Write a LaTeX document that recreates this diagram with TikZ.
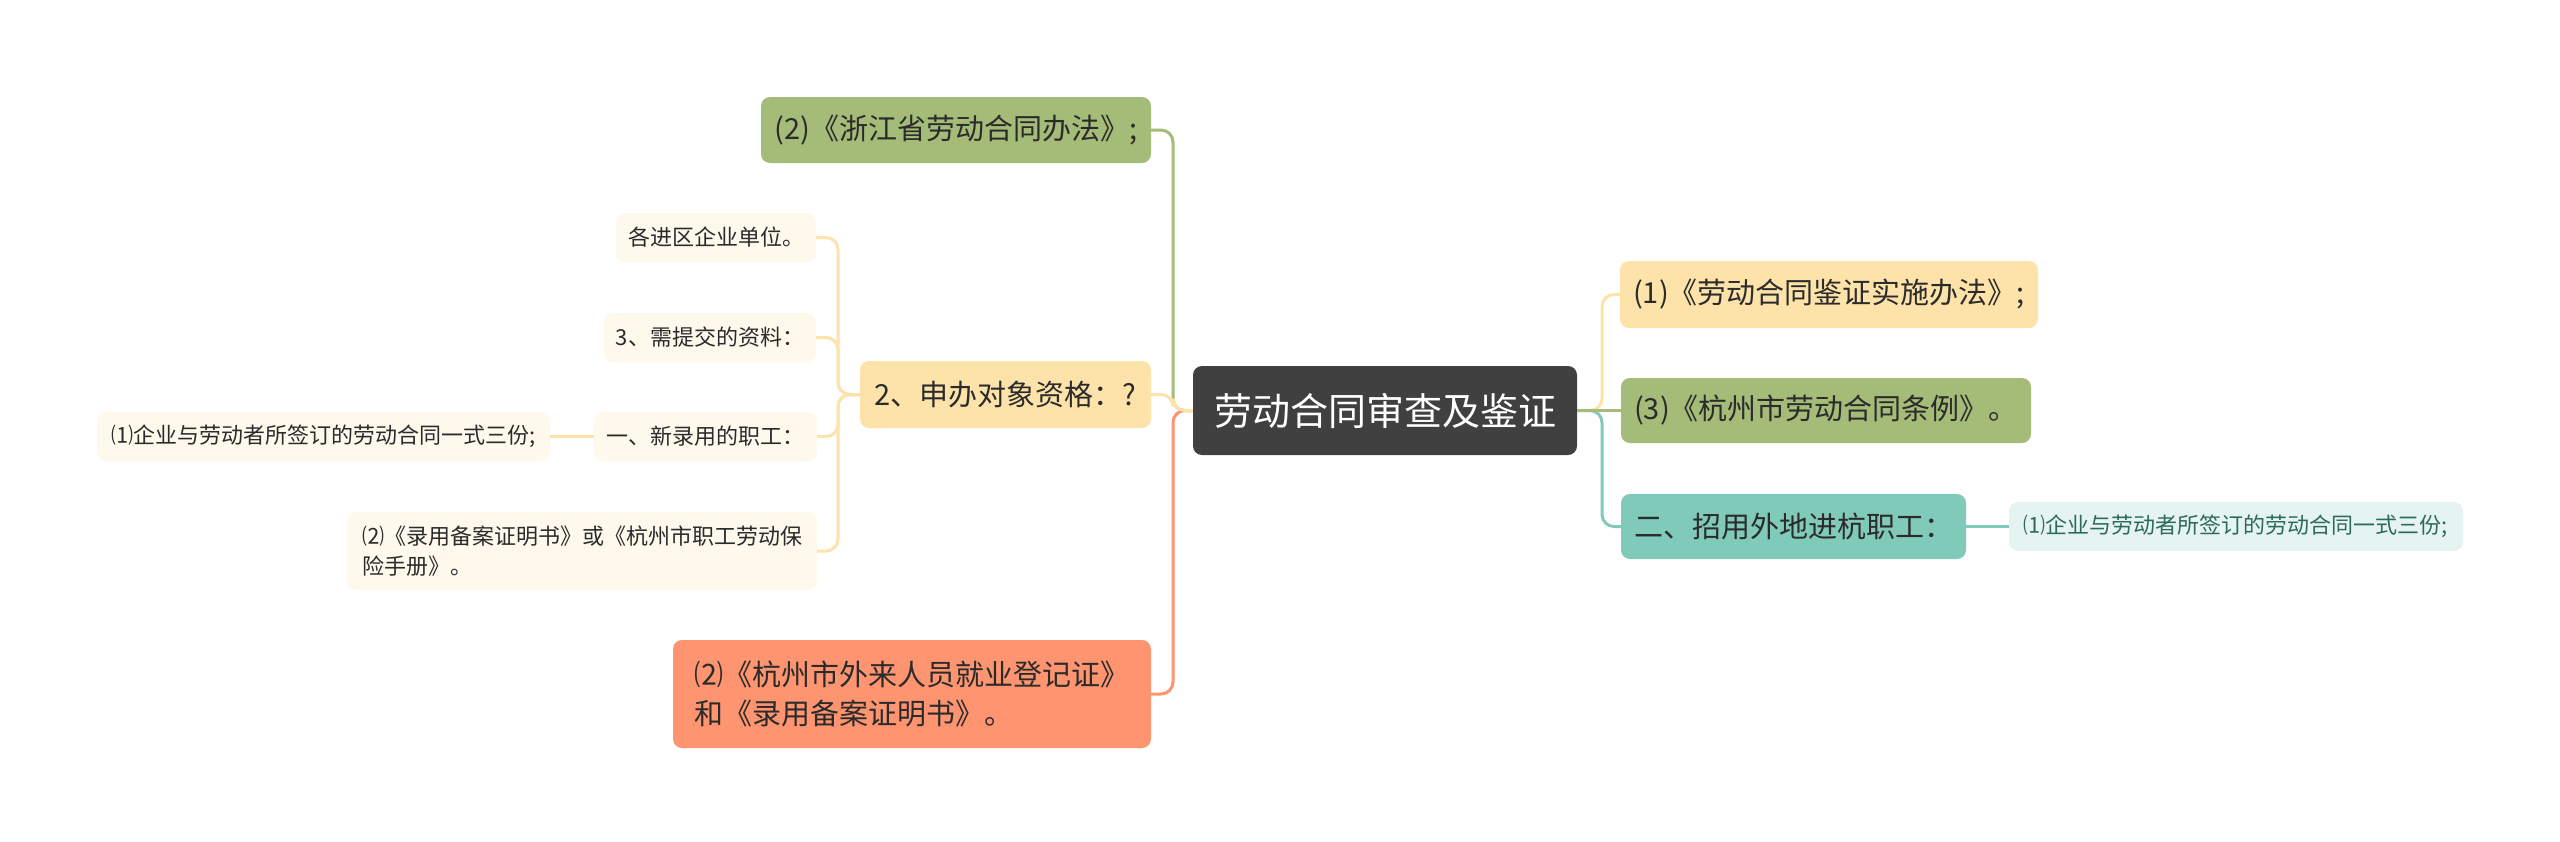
\documentclass[tikz,border=0pt]{standalone}
\usepackage{fontspec}
\setmainfont{Noto Sans CJK SC}
\definecolor{cdark}{HTML}{404040}
\definecolor{corange}{HTML}{FDE3A9}
\definecolor{cgreen}{HTML}{A4BC78}
\definecolor{cteal}{HTML}{80CABA}
\definecolor{csalmon}{HTML}{FF9470}
\definecolor{ccream}{HTML}{FEF9EC}
\definecolor{cltteal}{HTML}{E6F4F1}
\definecolor{ctealtext}{HTML}{2C6A5C}
\definecolor{ctxt}{HTML}{2B2B2B}
\begin{document}
\begin{tikzpicture}[x=1pt,y=-1pt,
  box/.style={rectangle, rounded corners=9pt, inner sep=0pt, align=left, text=ctxt},
  bigfont/.style={font=\fontsize{38}{46}\selectfont},
  midfont/.style={font=\fontsize{29}{39}\selectfont},
  smallfont/.style={font=\fontsize{22}{30}\selectfont},
  link/.style={line width=3pt, rounded corners=12pt},
]
\useasboundingbox[fill=white] (0,0) rectangle (2560,841);

% trunks
\coordinate (ltr) at (1173,0);
\coordinate (rtr) at (1602,0);
\coordinate (str) at (838,0);

% central
\node[box,bigfont,fill=cdark,text=white,minimum width=384pt,minimum height=89pt] (c) at (1385,410.5) {劳动合同审查及鉴证};

% right
\node[box,midfont,fill=corange,minimum width=418pt,minimum height=67pt] (r1) at (1829,294.5) {(1)《劳动合同鉴证实施办法》;};
\node[box,midfont,fill=cgreen,minimum width=410pt,minimum height=65pt] (r2) at (1826,410.5) {(3)《杭州市劳动合同条例》。};
\node[box,midfont,fill=cteal,minimum width=345pt,minimum height=65pt] (r3) at (1793.5,526.5) {二、招用外地进杭职工：};
\node[box,smallfont,fill=cltteal,text=ctealtext,minimum width=454pt,minimum height=49pt] (r3a) at (2236,526.5) {⑴企业与劳动者所签订的劳动合同一式三份;};

% left
\node[box,midfont,fill=cgreen,minimum width=390pt,minimum height=66pt] (l1) at (956,130) {(2)《浙江省劳动合同办法》;};
\node[box,midfont,fill=corange,minimum width=291pt,minimum height=67pt] (l2) at (1005.5,394.5) {2、申办对象资格：?};
\node[box,midfont,fill=csalmon,minimum width=478pt,minimum height=108pt] (l3) at (912,694) {⑵《杭州市外来人员就业登记证》\\和《录用备案证明书》。};

% sub nodes of l2
\node[box,smallfont,fill=ccream,minimum width=200pt,minimum height=49pt] (s1) at (716,237.5) {各进区企业单位。};
\node[box,smallfont,fill=ccream,minimum width=212pt,minimum height=49pt] (s2) at (710,337.5) {3、需提交的资料：};
\node[box,smallfont,fill=ccream,minimum width=223pt,minimum height=49pt] (s3) at (705.5,436.5) {一、新录用的职工：};
\node[box,smallfont,fill=ccream,minimum width=470pt,minimum height=78pt] (s4) at (582,551) {⑵《录用备案证明书》或《杭州市职工劳动保\\险手册》。};
\node[box,smallfont,fill=ccream,minimum width=453pt,minimum height=49pt] (s3a) at (323.5,436.5) {⑴企业与劳动者所签订的劳动合同一式三份;};

% connectors left
\draw[link,cgreen] (c.west) -- (c.west -| ltr) |- (l1.east);
\draw[link,csalmon] (c.west) -- (c.west -| ltr) |- (l3.east);
\draw[link,corange] (c.west) -- (c.west -| ltr) |- (l2.east);

% connectors right
\draw[link,corange] (c.east) -- (c.east -| rtr) |- (r1.west);
\draw[link,cteal] (c.east) -- (c.east -| rtr) |- (r3.west);
\draw[link,cgreen] (c.east) -- (r2.west);
\draw[link,cteal] (r3.east) -- (r3a.west);

% sub connectors
\draw[link,corange] (l2.west) -- (l2.west -| str) |- (s1.east);
\draw[link,corange] (l2.west) -- (l2.west -| str) |- (s2.east);
\draw[link,corange] (l2.west) -- (l2.west -| str) |- (s3.east);
\draw[link,corange] (l2.west) -- (l2.west -| str) |- (s4.east);
\draw[link,corange] (s3.west) -- (s3a.east);
\end{tikzpicture}
\end{document}
